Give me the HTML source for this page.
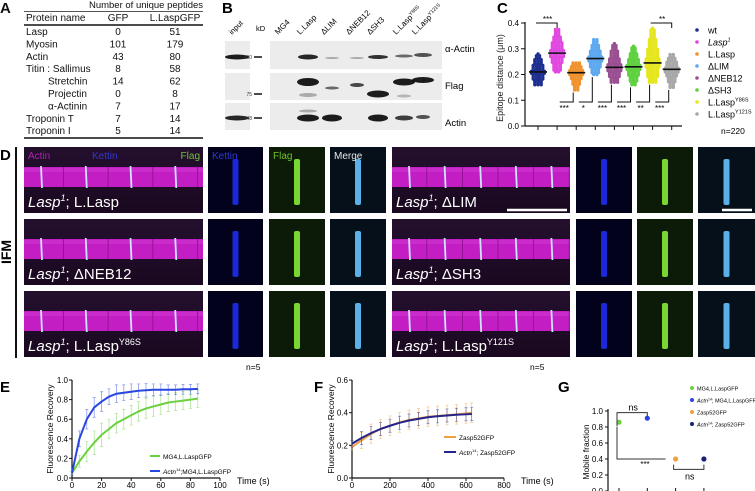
<!DOCTYPE html>
<html><head><meta charset="utf-8"><style>
body{margin:0;background:#fff;}
svg{display:block;font-family:"Liberation Sans",Arial,sans-serif;}
</style></head><body>
<svg id="fig" width="755" height="491" viewBox="0 0 755 491" xmlns="http://www.w3.org/2000/svg">
<g font-size="10" fill="#111">
  <text x="0" y="13" font-size="15" font-weight="bold">A</text>
  <text x="146" y="8" text-anchor="middle" font-size="9.5">Number of unique peptides</text>
  <line x1="24" y1="11.5" x2="203" y2="11.5" stroke="#555" stroke-width="1"/>
  <text x="26" y="21">Protein name</text><text x="118" y="21" text-anchor="middle">GFP</text><text x="175" y="21" text-anchor="middle">L.LaspGFP</text>
  <line x1="24" y1="25" x2="203" y2="25" stroke="#111" stroke-width="1.6"/>
  <g id="tbl"></g>
  <line x1="24" y1="138" x2="203" y2="138" stroke="#111" stroke-width="1.6"/>
</g>
<g>
  <text x="222" y="13" font-size="15" font-weight="bold">B</text>
  <g id="blot"></g>
</g>
<g>
  <text x="497" y="13" font-size="15" font-weight="bold">C</text>
  <text transform="translate(503,78) rotate(-90)" text-anchor="middle" font-size="9" fill="#222">Epitope distance  (μm)</text>
  <g id="chartC"></g>
</g>
<g>
  <text x="0" y="160" font-size="15" font-weight="bold">D</text>
  <line x1="16" y1="147" x2="16" y2="358" stroke="#111" stroke-width="2"/>
  <text transform="translate(11,252) rotate(-90)" text-anchor="middle" font-size="14" font-weight="bold">IFM</text>
  <g id="imgs"></g>
</g>
<g>
  <text x="0" y="392" font-size="15" font-weight="bold">E</text>
  <g id="chartE"></g>
</g>
<g>
  <text x="314" y="392" font-size="15" font-weight="bold">F</text>
  <g id="chartF"></g>
</g>
<g>
  <text x="558" y="392" font-size="15" font-weight="bold">G</text>
  <g id="chartG"></g>
</g>
</svg>
<script>
const NS="http://www.w3.org/2000/svg";
function mk(parent,tag,attrs,txt){const e=document.createElementNS(NS,tag);for(const k in attrs)e.setAttribute(k,attrs[k]);if(txt!==undefined)e.textContent=txt;parent.appendChild(e);return e;}

const tblNames=["Lasp","Myosin","Actin","Titin : Sallimus","Stretchin","Projectin","α-Actinin","Troponin T","Troponin I"];
const tblGFP=[0,101,43,8,14,0,7,7,5];
const tblLasp=[51,179,80,58,62,8,17,14,14];
const tbl=document.getElementById('tbl');
tblNames.forEach((n,i)=>{const y=35+i*12.4;const ind=(i>=4&&i<=6)?48:26;
 const t=mk(tbl,'text',{x:ind,y:y},n);
 
 
 mk(tbl,'text',{x:118,y:y,'text-anchor':'middle'},tblGFP[i]);
 mk(tbl,'text',{x:175,y:y,'text-anchor':'middle'},tblLasp[i]);});

const blot=document.getElementById('blot');
const laneNames=["MG4","L.Lasp","ΔLIM","ΔNEB12","ΔSH3","L.Lasp","L.Lasp"];
const laneSup=["","","","","","Y86S","Y121S"];
const laneX=[286,308,332,357,378,404,423];
mk(blot,'text',{transform:'translate(232,35) rotate(-45)','font-size':'7.5'},'input');
mk(blot,'text',{x:256,y:31,'font-size':'7.5'},'kD');
laneNames.forEach((n,i)=>{const t=mk(blot,'text',{transform:`translate(${laneX[i]-8},35) rotate(-45)`,'font-size':'8'},n);
 if(laneSup[i]){mk(t,'tspan',{'font-size':'5',dy:'-3'},laneSup[i]);}
 
 });
const rows=[[41,69],[73,100],[103,130]];
rows.forEach(r=>{mk(blot,'rect',{x:225,y:r[0],width:25,height:r[1]-r[0],fill:'#ececec'});mk(blot,'rect',{x:270,y:r[0],width:172,height:r[1]-r[0],fill:'#ececec'});});
function band(x,y,w,h,o){mk(blot,'ellipse',{cx:x,cy:y,rx:w/2,ry:h/2,fill:'#111','fill-opacity':o});}
band(237,57,24,5,0.95);band(237,118,24,5,0.9);
band(308,57,20,5,0.9);band(332,58,14,2,0.3);band(357,58,14,2,0.3);band(378,57,20,4,0.85);band(404,56,18,3,0.6);band(423,55,18,4,0.7);
band(308,82,22,8,0.95);band(308,95,18,4,0.3);band(332,88,14,3,0.6);band(357,85,14,4,0.75);band(378,94,22,7,0.95);band(404,82,22,7,0.95);band(423,80,22,6,0.95);band(404,96,14,3,0.25);
band(308,118,22,7,0.95);band(332,118,20,7,0.95);band(378,118,20,7,0.95);band(404,118,18,5,0.8);band(423,117,14,4,0.7);band(308,111,18,3,0.3);
[[57,'100'],[94,'75'],[118,'48']].forEach(m=>{mk(blot,'text',{x:252,y:m[0]+2,'font-size':'5','text-anchor':'end',fill:'#333'},m[1]);mk(blot,'line',{x1:254,x2:262,y1:m[0],y2:m[0],stroke:'#111','stroke-width':1.5});});
mk(blot,'text',{x:445,y:52,'font-size':'9.5'},'α-Actin');mk(blot,'text',{x:445,y:89,'font-size':'9.5'},'Flag');mk(blot,'text',{x:445,y:126,'font-size':'9.5'},'Actin');

const cCats=["wt","Lasp","L.Lasp","ΔLIM","ΔNEB12","ΔSH3","L.Lasp","L.Lasp"];
const cSup=["","1","","","","","Y86S","Y121S"];
const cMean=[0.21,0.283,0.207,0.262,0.228,0.230,0.245,0.220];
const cMin=[0.16,0.21,0.14,0.20,0.17,0.16,0.17,0.15];
const cMax=[0.28,0.38,0.25,0.34,0.32,0.31,0.38,0.28];
const cColors=["#1f2f90","#e048e0","#f0922e","#5ea8f0","#9a4f92","#5fd040","#e6e61e","#a8a8a8"];
const cTicks=[0.0,0.1,0.2,0.3,0.4];
const C=document.getElementById('chartC');
const cy=v=>126-v*257.5, cx=i=>538+i*19.1;
mk(C,'line',{x1:525,y1:22,x2:525,y2:126,stroke:'#111','stroke-width':1.2});
mk(C,'line',{x1:525,y1:126,x2:682,y2:126,stroke:'#111','stroke-width':1.2});
cTicks.forEach(t=>{mk(C,'line',{x1:521,x2:525,y1:cy(t),y2:cy(t),stroke:'#111'});mk(C,'text',{x:519,y:cy(t)+3,'font-size':'8','text-anchor':'end'},t.toFixed(1));});
cCats.forEach((c,i)=>{
 mk(C,'line',{x1:cx(i),x2:cx(i),y1:126,y2:130,stroke:'#111'});
 const g=mk(C,'g',{});
 
 
 for(let v=cMin[i];v<=cMax[i]+1e-6;v+=0.0075){
   const span=Math.max(cMean[i]-cMin[i],cMax[i]-cMean[i]);
   const f=1-Math.abs(v-cMean[i])/span*0.7;
   const n=Math.max(1,Math.round(f*5));
   for(let k=0;k<n;k++){const off=(k-(n-1)/2)*3.2;mk(g,'circle',{cx:cx(i)+off,cy:cy(v),r:1.7,fill:cColors[i]});}
 }
 const m=mk(C,'line',{x1:cx(i)-9,x2:cx(i)+9,y1:cy(cMean[i]),y2:cy(cMean[i]),stroke:'#111','stroke-width':1.6});
 
 
 const ly=30+i*12;
 mk(C,'circle',{cx:697,cy:ly,r:1.8,fill:cColors[i]});
 const lt=mk(C,'text',{x:708,y:ly+3.5,'font-size':'9','font-style':i==1?'italic':'normal'},c);
 if(cSup[i]) mk(lt,'tspan',{'font-size':'5.5',dy:'-4'},cSup[i]);
 
 
});
mk(C,'text',{x:721,y:134,'font-size':'8.5'},'n=220');
function bracketTop(a,b,y,lab){mk(C,'path',{d:`M${cx(a)-2},${y} H${cx(b)} V${y+5}`,fill:'none',stroke:'#111'});mk(C,'text',{x:(cx(a)+cx(b))/2,y:y-1,'font-size':'8','text-anchor':'middle'},lab);}
bracketTop(0,1,23,'***');bracketTop(6,7,23,'**');
const bot=['***','*','***','***','**','***'];
bot.forEach((s,j)=>{const i=j+2;const x0=cx(i)-16.5,x1=cx(i)-3;
 mk(C,'path',{d:`M${x0},102 H${x1} V${cy(cMin[i]-0.01)}`,fill:'none',stroke:'#111'});
 mk(C,'text',{x:cx(i)-12,y:111,'font-size':'8','text-anchor':'middle'},s);});

const imgs=document.getElementById('imgs');
const dRowY=[147,219,291];const dH=66;
const dLabelsL=["L.Lasp","ΔNEB12","L.Lasp"];const dSupL=["","","Y86S"];
const dLabelsR=["ΔLIM","ΔSH3","L.Lasp"];const dSupR=["","","Y121S"];
const defs=mk(imgs,'defs',{});
const lg=mk(defs,'linearGradient',{id:'bgp',x1:0,y1:0,x2:0,y2:1});mk(lg,'stop',{offset:0,'stop-color':'#24102e'});mk(lg,'stop',{offset:1,'stop-color':'#1a0820'});
function bigPanel(x,y,w,lab,sup,header,zcount){
 const g=mk(imgs,'g',{});
 
 
 mk(g,'rect',{x:x,y:y,width:w,height:dH,fill:'url(#bgp)'});
 mk(g,'rect',{x:x,y:y+20,width:w,height:20,fill:'#c21ec4'});
 mk(g,'rect',{x:x,y:y+21,width:w,height:4,fill:'#d23ad4','fill-opacity':0.5});
 for(let k=0;k<zcount;k++){const zx=x+17+k*(w/zcount);mk(g,'line',{x1:zx,x2:zx+1,y1:y+19,y2:y+41,stroke:'#cfe4ff','stroke-width':1.8});
   mk(g,'line',{x1:zx+w/zcount/2,x2:zx+w/zcount/2,y1:y+20,y2:y+40,stroke:'#8a108c','stroke-width':0.8});}
 const t=mk(g,'text',{x:x+4,y:y+60,'font-size':'15',fill:'#fff'});
 mk(t,'tspan',{'font-style':'italic'},'Lasp');mk(t,'tspan',{'font-size':'9',dy:'-6','font-style':'italic'},'1');mk(t,'tspan',{dy:'6'},'; '+lab);
 if(sup) mk(t,'tspan',{'font-size':'9',dy:'-6'},sup);
 if(header){mk(g,'text',{x:x+4,y:y+12,'font-size':'10',fill:'#b020b0'},'Actin');mk(g,'text',{x:x+68,y:y+12,'font-size':'10',fill:'#3038d8'},'Kettin');mk(g,'text',{x:x+w-3,y:y+12,'font-size':'10',fill:'#70c030','text-anchor':'end'},'Flag');}
}
function small(x,y,w,type,header){
 const cols={k:['#02021c','#1a28d8'],f:['#0c1a08','#7ad630'],m:['#06101a','#5ab0e8']};
 const g=mk(imgs,'g',{});
 
 
 mk(g,'rect',{x:x,y:y,width:w,height:dH,fill:cols[type][0]});
 mk(g,'rect',{x:x+w/2-3,y:y+12,width:6,height:46,fill:cols[type][1],rx:2});
 if(header){const lab={k:'Kettin',f:'Flag',m:'Merge'}[type];const col={k:'#3038d8',f:'#70c030',m:'#e8e8e8'}[type];mk(g,'text',{x:x+4,y:y+12,'font-size':'10',fill:col},lab);}
}
dRowY.forEach((y,r)=>{
 bigPanel(24,y,179,dLabelsL[r],dSupL[r],r==0,4);
 small(208,y,55,'k',r==0);small(269,y,56,'f',r==0);small(330,y,56,'m',r==0);
 bigPanel(392,y,178,dLabelsR[r],dSupR[r],false,5);
 small(576,y,56,'k',false);small(637,y,56,'f',false);small(698,y,57,'m',false);
});
mk(imgs,'line',{x1:507,x2:567,y1:210,y2:210,stroke:'#fff','stroke-width':2.5});
mk(imgs,'line',{x1:722,x2:752,y1:210,y2:210,stroke:'#fff','stroke-width':2.5});

const eTime=[0,5,10,15,20,25,30,35,40,45,50,55,60,65,70,75,80,85];
const eBlue=[0.05,0.40,0.60,0.72,0.78,0.83,0.86,0.87,0.88,0.89,0.895,0.90,0.90,0.90,0.90,0.905,0.905,0.91];
const eGreen=[0.05,0.17,0.27,0.36,0.44,0.50,0.56,0.60,0.64,0.68,0.71,0.73,0.75,0.77,0.78,0.79,0.80,0.81];
const eBlueErr=[0.02,0.08,0.1,0.1,0.1,0.08,0.09,0.08,0.08,0.07,0.07,0.06,0.06,0.05,0.05,0.05,0.05,0.05];
const eGreenErr=[0.02,0.06,0.1,0.12,0.12,0.1,0.1,0.1,0.1,0.1,0.1,0.1,0.1,0.09,0.09,0.09,0.09,0.09];
const eXTicks=[0,20,40,60,80,100];const eYTicks=[0.0,0.2,0.4,0.6,0.8,1.0];
const E=document.getElementById('chartE');
const ex=t=>72+t*1.48, ey=v=>478-v*98;
function axes(G,x0,x1,y0,y1,xt,yt,fx,fy,dec,xtitle,ytitle,ytx){
 mk(G,'line',{x1:x0,y1:y1,x2:x0,y2:y0,stroke:'#111','stroke-width':1.2});
 mk(G,'line',{x1:x0,y1:y0,x2:x1,y2:y0,stroke:'#111','stroke-width':1.2});
 xt.forEach(t=>{mk(G,'line',{x1:fx(t),x2:fx(t),y1:y0,y2:y0+3,stroke:'#111'});mk(G,'text',{x:fx(t),y:y0+10,'font-size':'8','text-anchor':'middle'},t);});
 yt.forEach(t=>{mk(G,'line',{x1:x0-3,x2:x0,y1:fy(t),y2:fy(t),stroke:'#111'});mk(G,'text',{x:x0-4,y:fy(t)+3,'font-size':'8','text-anchor':'end'},t.toFixed(dec));});
 if(xtitle) mk(G,'text',{x:x1+17,y:y0+6,'font-size':'9'},xtitle);
 mk(G,'text',{transform:`translate(${ytx},${(y0+y1)/2}) rotate(-90)`,'font-size':'8.5','text-anchor':'middle'},ytitle);
}
axes(E,72,220,478,380,eXTicks,eYTicks,ex,ey,1,'Time (s)','Fluorescence Recovery',53);
function series(G,T,V,Err,fx,fy,col,name){
 const g=mk(G,'g',{});
 
 
 T.forEach((t,i)=>{const d=`M${fx(t)},${fy(V[i]-Err[i])}V${fy(V[i]+Err[i])}M${fx(t)-1.5},${fy(V[i]+Err[i])}h3M${fx(t)-1.5},${fy(V[i]-Err[i])}h3`;mk(g,'path',{d:d,stroke:col,'stroke-opacity':0.6,'stroke-width':0.7,fill:'none'});});
 mk(g,'polyline',{points:T.map((t,i)=>fx(t)+','+fy(V[i])).join(' '),fill:'none',stroke:col,'stroke-width':2});
}
series(E,eTime,eGreen,eGreenErr,ex,ey,'#6cd040','series-mg4-llaspgfp');
series(E,eTime,eBlue,eBlueErr,ex,ey,'#2a46e0','series-actn14-mg4-llaspgfp');
mk(E,'line',{x1:150,x2:160,y1:456,y2:456,stroke:'#6cd040','stroke-width':2});mk(E,'text',{x:163,y:459,'font-size':'6.5'},'MG4,L.LaspGFP');
mk(E,'line',{x1:150,x2:160,y1:471,y2:471,stroke:'#2a46e0','stroke-width':2});
const le=mk(E,'text',{x:163,y:474,'font-size':'6.5'});mk(le,'tspan',{'font-style':'italic'},'Actn');mk(le,'tspan',{'font-size':'4',dy:'-3'},'14');mk(le,'tspan',{dy:'3'},';MG4,L.LaspGFP');
mk(E,'text',{x:246,y:370,'font-size':'8.5'},'n=5');

const fTime=[0,50,100,150,200,250,300,350,400,450,500,550,600,630];
const fOrange=[0.19,0.23,0.27,0.30,0.32,0.34,0.355,0.365,0.375,0.38,0.385,0.39,0.395,0.40];
const fNavy=[0.21,0.245,0.275,0.30,0.32,0.338,0.352,0.362,0.372,0.378,0.383,0.387,0.39,0.392];
const fOErr=[0.02,0.05,0.06,0.06,0.06,0.06,0.06,0.06,0.06,0.06,0.06,0.06,0.06,0.06];
const fNErr=[0.02,0.04,0.04,0.04,0.04,0.04,0.04,0.04,0.04,0.04,0.04,0.04,0.04,0.04];
const fXTicks=[0,200,400,600,800];const fYTicks=[0.0,0.2,0.4,0.6];
const F=document.getElementById('chartF');
const fx=t=>352+t*0.19, fy=v=>478-v*163.3;
axes(F,352,504,478,380,fXTicks,fYTicks,fx,fy,1,'Time (s)','Fluorescence Recovery',334);
series(F,fTime,fOrange,fOErr,fx,fy,'#f0a040','series-zasp52gfp');
series(F,fTime,fNavy,fNErr,fx,fy,'#24248a','series-actn14-zasp52gfp');
mk(F,'line',{x1:444,x2:456,y1:437,y2:437,stroke:'#f0a040','stroke-width':2});mk(F,'text',{x:459,y:440,'font-size':'6.5'},'Zasp52GFP');
mk(F,'line',{x1:444,x2:456,y1:452,y2:452,stroke:'#24248a','stroke-width':2});
const lf=mk(F,'text',{x:459,y:455,'font-size':'6.5'});mk(lf,'tspan',{'font-style':'italic'},'Actn');mk(lf,'tspan',{'font-size':'4',dy:'-3'},'14');mk(lf,'tspan',{dy:'3'},'; Zasp52GFP');
mk(F,'text',{x:530,y:370,'font-size':'8.5'},'n=5');

const gCats=["MG4,L.LaspGFP","Actn14; MG4,L.LaspGFP","Zasp52GFP","Actn14; Zasp52GFP"];
const gVals=[0.86,0.91,0.40,0.40];
const gColors=["#6cd040","#2a46e0","#f0a040","#18207a"];
const gYTicks=[0.0,0.2,0.4,0.6,0.8,1.0];
const G=document.getElementById('chartG');
const gx=i=>619+i*28.3, gy=v=>491-v*80;
mk(G,'line',{x1:608,y1:409,x2:608,y2:491,stroke:'#111','stroke-width':1.2});
gYTicks.forEach(t=>{mk(G,'line',{x1:605,x2:608,y1:gy(t),y2:gy(t),stroke:'#111'});mk(G,'text',{x:603,y:gy(t)+3,'font-size':'8','text-anchor':'end'},t.toFixed(1));});
mk(G,'text',{transform:`translate(589,452) rotate(-90)`,'font-size':'8.5','text-anchor':'middle'},'Mobile fraction');
gVals.forEach((v,i)=>{const p=mk(G,'circle',{cx:gx(i),cy:gy(v),r:2.6,fill:gColors[i]});
 
 
 mk(G,'line',{x1:gx(i),x2:gx(i),y1:488,y2:491,stroke:'#111'});
 const ly=388+i*12;mk(G,'circle',{cx:692,cy:ly,r:2,fill:gColors[i]});
 const t=mk(G,'text',{x:697,y:ly+2.5,'font-size':'5.5'});
 if(i%2==1){mk(t,'tspan',{'font-style':'italic'},'Actn');mk(t,'tspan',{'font-size':'3.5',dy:'-2'},'14');mk(t,'tspan',{dy:'2'},'; '+gCats[i].split('; ')[1]);} else t.textContent=gCats[i];
 
 
});
mk(G,'path',{d:`M${gx(0)-2},${gy(0.87)+5}V${gy(0.98)}H${gx(1)}V${gy(0.98)+4}`,fill:'none',stroke:'#333'});
mk(G,'text',{x:(gx(0)+gx(1))/2,y:gy(0.98)-2,'font-size':'9','text-anchor':'middle'},'ns');
mk(G,'path',{d:`M${gx(2)-2},${gy(0.33)}V${gy(0.27)}H${gx(3)}V${gy(0.33)}`,fill:'none',stroke:'#333'});
mk(G,'text',{x:(gx(2)+gx(3))/2,y:gy(0.27)+10,'font-size':'9','text-anchor':'middle'},'ns');
mk(G,'path',{d:`M${gx(0)-2},${gy(0.8)}V${gy(0.4)}H${gx(2)-10}`,fill:'none',stroke:'#333'});
mk(G,'text',{x:645,y:gy(0.4)+8,'font-size':'8','text-anchor':'middle'},'***');
</script>
</body></html>
